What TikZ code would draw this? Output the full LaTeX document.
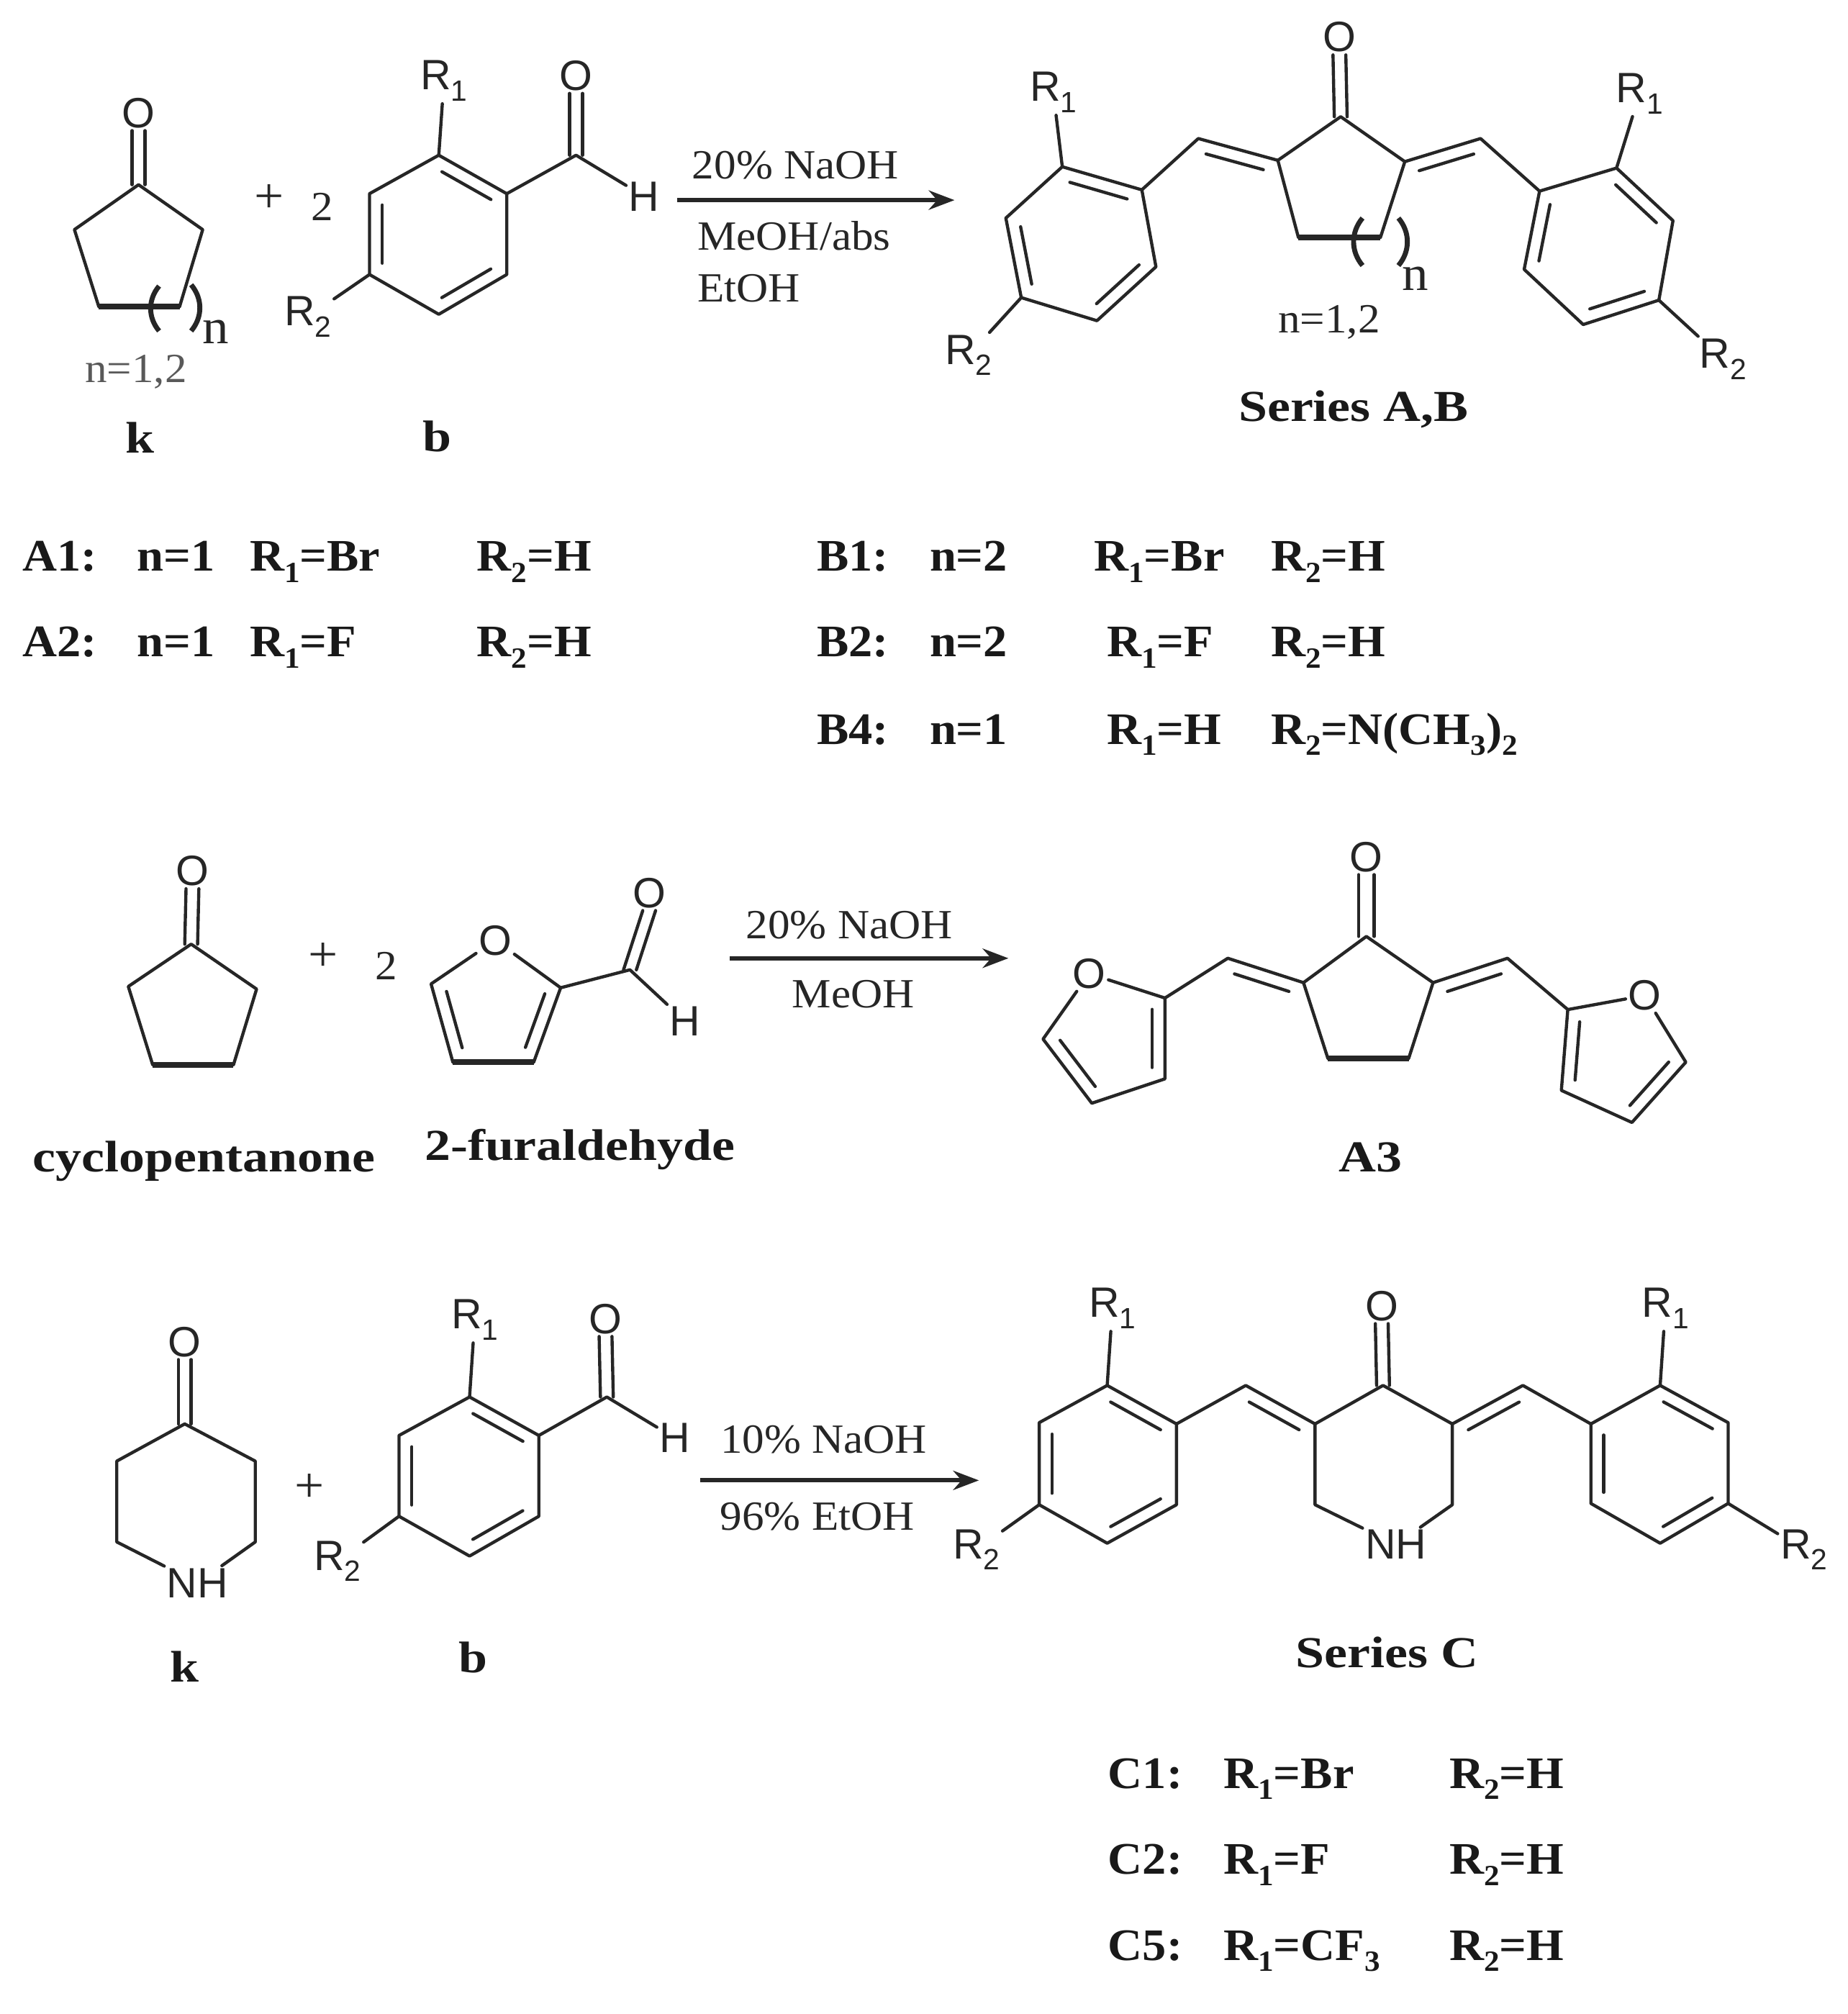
\documentclass[tikz,border=0pt]{standalone}
\usepackage{fontspec}
\setmainfont[FakeStretch=1.06]{Liberation Serif}
\newfontfamily\atomfont{Liberation Sans}
\newfontfamily\namefont[FakeStretch=1.17]{Liberation Serif}
\usetikzlibrary{calc,arrows.meta}

\newcommand{\dblin}[2]{\draw[bond] ($(#1)!.14!(#2)!.1cm!-90:(#2)$) -- ($(#2)!.14!(#1)!.1cm!90:(#1)$);}
\newcommand{\lowr}[1]{\raisebox{-2.5pt}{\fontsize{6.5}{7}\selectfont #1}}

\tikzset{
    bond/.style={line width=.7pt, black!85, line cap=round, line join=round},
    heavy/.style={line width=1.3pt, black!85},
    paren/.style={line width=1.1pt, black!85},
    rarrow/.style={line width=.95pt, black!85, -{Stealth[length=.2cm,width=.15cm]}},
    atom/.style={font=\atomfont\fontsize{9.4}{11}\selectfont, inner sep=.4pt, black!85},
    cond/.style={font=\fontsize{9.2}{11}\selectfont, inner sep=0pt, black!85},
    sym/.style={font=\fontsize{11}{12}\selectfont, inner sep=0pt, black!85},
    molname/.style={font=\namefont\bfseries\fontsize{9.8}{12}\selectfont, inner sep=0pt, black!90},
    tbl/.style={font=\bfseries\fontsize{10}{12}\selectfont, inner sep=0pt, anchor=base west, black!90}
}

\begin{document}
\begin{tikzpicture}[x=.01cm, y=-.01cm]
    \useasboundingbox (0,0) rectangle (1440,1570);

    % ketone k, first row
    \coordinate (kc) at (108,144);
    \coordinate (kl) at (58,179);
    \coordinate (kr) at (158,179);
    \coordinate (kbl) at (77,239);
    \coordinate (kbr) at (140,239);
    \node[atom] (kO) at (108,88) {O};
    \draw[bond] ([xshift=-.05cm]kc) -- ([xshift=-.05cm]kO.south);
    \draw[bond] ([xshift=.05cm]kc) -- ([xshift=.05cm]kO.south);
    \draw[bond] (kbl) -- (kl) -- (kc) -- (kr) -- (kbr);
    \draw[heavy] (kbl) -- (kbr);
    \coordinate (kp1) at (124,223);
    \coordinate (kp2) at (124,258);
    \coordinate (kp3) at (149,222);
    \coordinate (kp4) at (149,258);
    \draw[paren] (kp1) to[bend right=40] (kp2);
    \draw[paren] (kp3) to[bend left=40] (kp4);
    \node[sym] (kn) at (168,259) {n};
    \node[cond, black!65] (kval) at (106,290) {n=1,2};
    \node[molname] (klab) at (109,341) {k};

    \node[sym] (plus1) at (210,155) {+};
    \node[cond] (two1) at (251,161) {2};

    % aldehyde b, first row
    \coordinate (b1) at (342,121);
    \coordinate (b2) at (395,151);
    \coordinate (b3) at (395,214);
    \coordinate (b4) at (342,245);
    \coordinate (b5) at (288,214);
    \coordinate (b6) at (288,151);
    \coordinate (bc) at (449,121);
    \node[atom] (bR1) at (346,63) {R\lowr{1}};
    \node[atom] (bR2) at (240,247) {R\lowr{2}};
    \node[atom] (bO) at (449,59) {O};
    \node[atom] (bH) at (502,153) {H};
    \draw[bond] (b1) -- (b2) -- (b3) -- (b4) -- (b5) -- (b6) -- cycle;
    \dblin{b1}{b2}
    \dblin{b3}{b4}
    \dblin{b5}{b6}
    \draw[bond] (b1) -- (bR1);
    \draw[bond] (b5) -- (bR2);
    \draw[bond] (b2) -- (bc) -- (bH);
    \draw[bond] ([xshift=-.05cm]bc) -- ([xshift=-.05cm]bO.south);
    \draw[bond] ([xshift=.05cm]bc) -- ([xshift=.05cm]bO.south);
    \node[molname] (blab) at (341,340) {b};

    % first arrow
    \coordinate (ar1s) at (528,156);
    \coordinate (ar1e) at (744,156);
    \draw[rarrow] (ar1s) -- (ar1e);
    \node[cond] (ar1a) at (620,129) {20\% NaOH};
    \node[cond, anchor=west] (ar1b) at (543,184) {MeOH/abs};
    \node[cond, anchor=west] (ar1c) at (543,225) {EtOH};

    % product series A,B
    \coordinate (pc) at (1045,91);
    \coordinate (pl) at (996,125);
    \coordinate (pr) at (1095,126);
    \coordinate (pbl) at (1012,185);
    \coordinate (pbr) at (1076,185);
    \node[atom] (pO) at (1044,29) {O};
    \draw[bond] ([xshift=-.05cm]pc) -- ([xshift=-.05cm]pO.south);
    \draw[bond] ([xshift=.05cm]pc) -- ([xshift=.05cm]pO.south);
    \draw[bond] (pbl) -- (pl) -- (pc) -- (pr) -- (pbr);
    \draw[heavy] (pbl) -- (pbr);
    \coordinate (pp1) at (1062,170);
    \coordinate (pp2) at (1062,207);
    \coordinate (pp3) at (1090,170);
    \coordinate (pp4) at (1090,207);
    \draw[paren] (pp1) to[bend right=40] (pp2);
    \draw[paren] (pp3) to[bend left=40] (pp4);
    \node[sym] (pn) at (1103,217) {n};
    \node[cond] (pval) at (1036,251) {n=1,2};
    \node[molname] (plab) at (1055,319) {Series A,B};

    \coordinate (pvl) at (934,108);
    \coordinate (l1) at (890,148);
    \coordinate (l2) at (901,208);
    \coordinate (l3) at (855,250);
    \coordinate (l4) at (796,232);
    \coordinate (l5) at (784,170);
    \coordinate (l6) at (828,130);
    \node[atom] (lR1) at (821,72) {R\lowr{1}};
    \node[atom] (lR2) at (755,277) {R\lowr{2}};
    \draw[bond] (l1) -- (l2) -- (l3) -- (l4) -- (l5) -- (l6) -- cycle;
    \dblin{l2}{l3}
    \dblin{l4}{l5}
    \dblin{l6}{l1}
    \draw[bond] (l6) -- (lR1);
    \draw[bond] (l4) -- (lR2);
    \draw[bond] (l1) -- (pvl) -- (pl);
    \dblin{pvl}{pl}

    \coordinate (pvr) at (1154,108);
    \coordinate (r1) at (1200,149);
    \coordinate (r2) at (1260,131);
    \coordinate (r3) at (1304,172);
    \coordinate (r4) at (1293,234);
    \coordinate (r5) at (1234,253);
    \coordinate (r6) at (1188,210);
    \node[atom] (rR1) at (1278,73) {R\lowr{1}};
    \node[atom] (rR2) at (1343,280) {R\lowr{2}};
    \draw[bond] (r1) -- (r2) -- (r3) -- (r4) -- (r5) -- (r6) -- cycle;
    \dblin{r2}{r3}
    \dblin{r4}{r5}
    \dblin{r6}{r1}
    \draw[bond] (r2) -- (rR1);
    \draw[bond] (r4) -- (rR2);
    \draw[bond] (r1) -- (pvr) -- (pr);
    \dblin{pr}{pvr}

    % table of series A and B
    \node[tbl] (a1) at (17,445) {A1:};
    \node[tbl] (a1n) at (106,445) {n=1};
    \node[tbl] (a1x) at (194,445) {R\lowr{1}=Br};
    \node[tbl] (a1y) at (371,445) {R\lowr{2}=H};
    \node[tbl] (a2) at (17,512) {A2:};
    \node[tbl] (a2n) at (106,512) {n=1};
    \node[tbl] (a2x) at (194,512) {R\lowr{1}=F};
    \node[tbl] (a2y) at (371,512) {R\lowr{2}=H};
    \node[tbl] (t1) at (636,445) {B1:};
    \node[tbl] (t1n) at (724,445) {n=2};
    \node[tbl] (t1x) at (852,445) {R\lowr{1}=Br};
    \node[tbl] (t1y) at (990,445) {R\lowr{2}=H};
    \node[tbl] (t2) at (636,512) {B2:};
    \node[tbl] (t2n) at (724,512) {n=2};
    \node[tbl] (t2x) at (862,512) {R\lowr{1}=F};
    \node[tbl] (t2y) at (990,512) {R\lowr{2}=H};
    \node[tbl] (t4) at (636,580) {B4:};
    \node[tbl] (t4n) at (724,580) {n=1};
    \node[tbl] (t4x) at (862,580) {R\lowr{1}=H};
    \node[tbl] (t4y) at (990,580) {R\lowr{2}=N(CH\lowr{3})\lowr{2}};

    % cyclopentanone, second row
    \coordinate (cc) at (149,736);
    \coordinate (cl) at (100,769);
    \coordinate (cr) at (200,771);
    \coordinate (cbl) at (119,830);
    \coordinate (cbr) at (182,830);
    \node[atom] (cO) at (150,679) {O};
    \draw[bond] ([xshift=-.05cm]cc) -- ([xshift=-.05cm]cO.south);
    \draw[bond] ([xshift=.05cm]cc) -- ([xshift=.05cm]cO.south);
    \draw[bond] (cbl) -- (cl) -- (cc) -- (cr) -- (cbr);
    \draw[heavy] (cbl) -- (cbr);
    \node[molname] (clab) at (159,905) {cyclopentanone};

    \node[sym] (plus2) at (252,746) {+};
    \node[cond] (two2) at (301,753) {2};

    % furaldehyde
    \node[atom] (fO) at (386,733) {O};
    \coordinate (f2) at (437,770);
    \coordinate (f3) at (416,828);
    \coordinate (f4) at (353,828);
    \coordinate (f5) at (336,767);
    \coordinate (fc) at (491,756);
    \node[atom] (fCO) at (506,696) {O};
    \node[atom] (fH) at (534,796) {H};
    \draw[bond] (fO) -- (f2) -- (f3);
    \draw[heavy] (f3) -- (f4);
    \draw[bond] (f4) -- (f5) -- (fO);
    \dblin{f2}{f3}
    \dblin{f4}{f5}
    \draw[bond] (f2) -- (fc) -- (fH);
    \draw[bond] ([xshift=-.05cm]fc) -- ([xshift=-.05cm]fCO.south);
    \draw[bond] ([xshift=.05cm]fc) -- ([xshift=.05cm]fCO.south);
    \node[molname] (flab) at (452,896) {2-furaldehyde};

    % second arrow
    \coordinate (ar2s) at (569,747);
    \coordinate (ar2e) at (786,747);
    \draw[rarrow] (ar2s) -- (ar2e);
    \node[cond] (ar2a) at (662,721) {20\% NaOH};
    \node[cond] (ar2b) at (665,775) {MeOH};

    % product A3
    \coordinate (qc) at (1065,730);
    \coordinate (ql) at (1016,766);
    \coordinate (qr) at (1117,766);
    \coordinate (qbl) at (1035,825);
    \coordinate (qbr) at (1098,825);
    \node[atom] (qO) at (1065,668) {O};
    \draw[bond] ([xshift=-.06cm]qc) -- ([xshift=-.06cm]qO.south);
    \draw[bond] ([xshift=.06cm]qc) -- ([xshift=.06cm]qO.south);
    \draw[bond] (qbl) -- (ql) -- (qc) -- (qr) -- (qbr);
    \draw[heavy] (qbl) -- (qbr);
    \node[molname] (qlab) at (1068,902) {A3};

    \coordinate (qvl) at (957,747);
    \coordinate (g2) at (908,778);
    \coordinate (g3) at (908,841);
    \coordinate (g4) at (851,860);
    \coordinate (g5) at (813,810);
    \node[atom] (gO) at (849,759) {O};
    \draw[bond] (g2) -- (g3) -- (g4) -- (g5) -- (gO) -- (g2);
    \dblin{g2}{g3}
    \dblin{g4}{g5}
    \draw[bond] (g2) -- (qvl) -- (ql);
    \dblin{qvl}{ql}

    \coordinate (qvr) at (1175,747);
    \coordinate (h2) at (1222,787);
    \coordinate (h3) at (1217,850);
    \coordinate (h4) at (1272,875);
    \coordinate (h5) at (1314,828);
    \node[atom] (hO) at (1282,776) {O};
    \draw[bond] (h2) -- (hO) -- (h5) -- (h4) -- (h3) -- (h2);
    \dblin{h5}{h4}
    \dblin{h3}{h2}
    \draw[bond] (h2) -- (qvr) -- (qr);
    \dblin{qr}{qvr}

    % piperidone k, third row
    \coordinate (nc) at (144,1110);
    \coordinate (nl) at (91,1139);
    \coordinate (nr) at (199,1139);
    \coordinate (nbl) at (91,1202);
    \coordinate (nbr) at (199,1202);
    \node[atom] (nO) at (144,1046) {O};
    \node[atom] (nNH) at (154,1234) {NH};
    \draw[bond] ([xshift=-.05cm]nc) -- ([xshift=-.05cm]nO.south);
    \draw[bond] ([xshift=.05cm]nc) -- ([xshift=.05cm]nO.south);
    \draw[bond] (nNH) -- (nbl) -- (nl) -- (nc) -- (nr) -- (nbr) -- (nNH);
    \node[molname] (nlab) at (144,1299) {k};

    \node[sym] (plus3) at (241,1160) {+};

    % aldehyde b, third row
    \coordinate (d1) at (366,1089);
    \coordinate (d2) at (420,1119);
    \coordinate (d3) at (420,1182);
    \coordinate (d4) at (366,1213);
    \coordinate (d5) at (311,1182);
    \coordinate (d6) at (311,1119);
    \coordinate (dc) at (473,1089);
    \node[atom] (dR1) at (370,1029) {R\lowr{1}};
    \node[atom] (dR2) at (263,1217) {R\lowr{2}};
    \node[atom] (dO) at (472,1028) {O};
    \node[atom] (dH) at (526,1121) {H};
    \draw[bond] (d1) -- (d2) -- (d3) -- (d4) -- (d5) -- (d6) -- cycle;
    \dblin{d1}{d2}
    \dblin{d3}{d4}
    \dblin{d5}{d6}
    \draw[bond] (d1) -- (dR1);
    \draw[bond] (d5) -- (dR2);
    \draw[bond] (d2) -- (dc) -- (dH);
    \draw[bond] ([xshift=-.05cm]dc) -- ([xshift=-.05cm]dO.south);
    \draw[bond] ([xshift=.05cm]dc) -- ([xshift=.05cm]dO.south);
    \node[molname] (dlab) at (369,1292) {b};

    % third arrow
    \coordinate (ar3s) at (546,1154);
    \coordinate (ar3e) at (763,1154);
    \draw[rarrow] (ar3s) -- (ar3e);
    \node[cond] (ar3a) at (642,1122) {10\% NaOH};
    \node[cond] (ar3b) at (637,1182) {96\% EtOH};

    % product series C
    \coordinate (sc) at (1078,1080);
    \coordinate (sl) at (1025,1110);
    \coordinate (sr) at (1132,1110);
    \coordinate (sbl) at (1025,1173);
    \coordinate (sbr) at (1132,1173);
    \node[atom] (sO) at (1077,1018) {O};
    \node[atom] (sNH) at (1088,1204) {NH};
    \draw[bond] ([xshift=-.05cm]sc) -- ([xshift=-.05cm]sO.south);
    \draw[bond] ([xshift=.05cm]sc) -- ([xshift=.05cm]sO.south);
    \draw[bond] (sNH) -- (sbl) -- (sl) -- (sc) -- (sr) -- (sbr) -- (sNH);
    \node[molname] (slab) at (1081,1288) {Series C};

    \coordinate (svl) at (971,1080);
    \coordinate (u1) at (917,1110);
    \coordinate (u2) at (917,1173);
    \coordinate (u3) at (863,1203);
    \coordinate (u4) at (810,1173);
    \coordinate (u5) at (810,1109);
    \coordinate (u6) at (863,1080);
    \node[atom] (uR1) at (867,1020) {R\lowr{1}};
    \node[atom] (uR2) at (761,1208) {R\lowr{2}};
    \draw[bond] (u1) -- (u2) -- (u3) -- (u4) -- (u5) -- (u6) -- cycle;
    \dblin{u2}{u3}
    \dblin{u4}{u5}
    \dblin{u6}{u1}
    \draw[bond] (u6) -- (uR1);
    \draw[bond] (u4) -- (uR2);
    \draw[bond] (u1) -- (svl) -- (sl);
    \dblin{svl}{sl}

    \coordinate (svr) at (1187,1080);
    \coordinate (w1) at (1240,1110);
    \coordinate (w2) at (1294,1080);
    \coordinate (w3) at (1347,1109);
    \coordinate (w4) at (1347,1172);
    \coordinate (w5) at (1294,1203);
    \coordinate (w6) at (1240,1172);
    \node[atom] (wR1) at (1298,1020) {R\lowr{1}};
    \node[atom] (wR2) at (1406,1208) {R\lowr{2}};
    \draw[bond] (w1) -- (w2) -- (w3) -- (w4) -- (w5) -- (w6) -- cycle;
    \dblin{w2}{w3}
    \dblin{w4}{w5}
    \dblin{w6}{w1}
    \draw[bond] (w4) -- (wR2);
    \draw[bond] (w2) -- (wR1);
    \draw[bond] (w1) -- (svr) -- (sr);
    \dblin{sr}{svr}

    % table of series C
    \node[tbl] (c1) at (863,1394) {C1:};
    \node[tbl] (c1x) at (953,1394) {R\lowr{1}=Br};
    \node[tbl] (c1y) at (1129,1394) {R\lowr{2}=H};
    \node[tbl] (c2) at (863,1461) {C2:};
    \node[tbl] (c2x) at (953,1461) {R\lowr{1}=F};
    \node[tbl] (c2y) at (1129,1461) {R\lowr{2}=H};
    \node[tbl] (c5) at (863,1528) {C5:};
    \node[tbl] (c5x) at (953,1528) {R\lowr{1}=CF\lowr{3}};
    \node[tbl] (c5y) at (1129,1528) {R\lowr{2}=H};
\end{tikzpicture}
\end{document}
